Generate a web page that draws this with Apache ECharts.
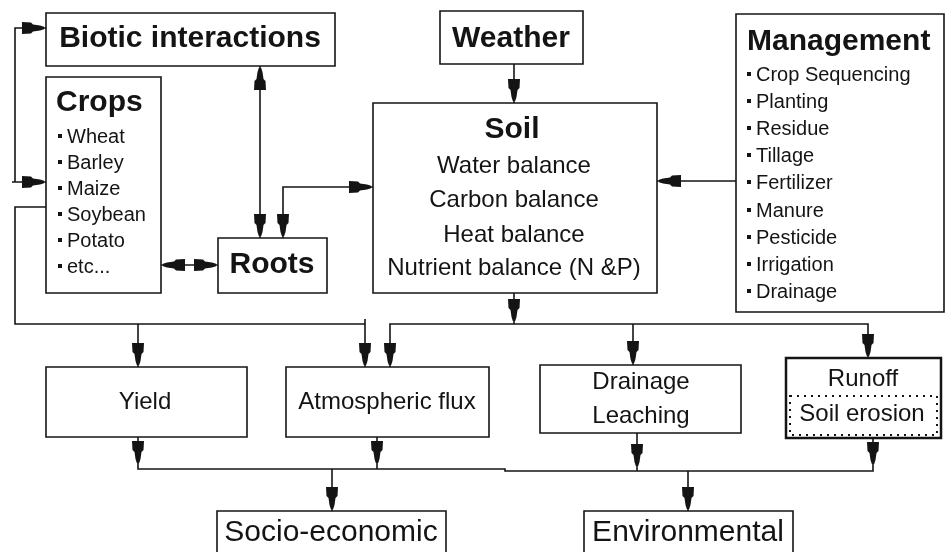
<!DOCTYPE html>
<html>
<head>
    <meta charset="UTF-8">
    <title>Crop system model</title>
    <script src="https://cdn.jsdelivr.net/npm/echarts@6/dist/echarts.min.js"></script>
    <style>
        html, body { margin: 0; padding: 0; background: #fff; }
    </style>
</head>
<body>
<div id="main" style="width: 946px;height:552px;"></div>
<script type="text/javascript">
    // boxes: name, x0, y0, x1, y1 (diagram units = pixels of the figure)
    var boxes = [
        ['biotic', 46, 13, 335, 66],
        ['crops', 46, 77, 161, 293],
        ['roots', 218, 238, 327, 293],
        ['weather', 440, 11, 583, 64],
        ['soil', 373, 103, 657, 293],
        ['management', 736, 14, 944, 312],
        ['yield', 46, 367, 247, 437],
        ['atmos', 286, 367, 489, 437],
        ['drainage', 540, 365, 741, 433],
        ['runoff', 786, 358, 941, 438],
        ['socio', 217, 511, 446, 575],
        ['environ', 584, 511, 793, 575]
    ];
    // dotted part of the runoff box (soil erosion)
    var dottedBoxes = [[790, 396, 937, 435]];

    // connector polylines
    var links = [
        [[12, 182], [46, 182]],
        [[15, 182], [15, 28], [46, 28]],
        [[46, 207], [15, 207], [15, 324], [365, 324]],
        [[138, 324], [138, 367]],
        [[365, 319], [365, 367]],
        [[260, 66], [260, 238]],
        [[283, 238], [283, 187], [373, 187]],
        [[161, 265], [218, 265]],
        [[514, 64], [514, 103]],
        [[736, 181], [657, 181]],
        [[514, 293], [514, 324]],
        [[390, 367], [390, 324], [868, 324], [868, 358]],
        [[633, 324], [633, 365]],
        [[138, 437], [138, 469], [505, 469], [505, 471], [873, 471], [873, 438]],
        [[377, 437], [377, 469]],
        [[637, 433], [637, 471]],
        [[332, 469], [332, 511]],
        [[688, 471], [688, 511]]
    ];

    // arrow heads: tip x, tip y, direction
    var arrowHeads = [
        [46, 28, 'right'], [46, 182, 'right'],
        [138, 367, 'down'], [365, 367, 'down'],
        [260, 66, 'up'], [260, 238, 'down'], [283, 238, 'down'],
        [373, 187, 'right'], [161, 265, 'left'], [218, 265, 'right'],
        [514, 103, 'down'], [657, 181, 'left'], [514, 323, 'down'],
        [390, 367, 'down'], [633, 365, 'down'], [868, 358, 'down'],
        [138, 465, 'down'], [377, 465, 'down'], [637, 468, 'down'], [873, 466, 'down'],
        [332, 511, 'down'], [688, 511, 'down']
    ];

    // texts: text, x, y, kind, align
    var labels = [
        ['Biotic interactions', 190, 39, 'head', 'center'],
        ['Crops', 56, 103, 'head', 'left'],
        ['Roots', 272, 265, 'head', 'center'],
        ['Weather', 511, 39, 'head', 'center'],
        ['Soil', 512, 130, 'head', 'center'],
        ['Management', 747, 42, 'head', 'left'],
        ['Water balance', 514, 166, 'body', 'center'],
        ['Carbon balance', 514, 200, 'body', 'center'],
        ['Heat balance', 514, 235, 'body', 'center'],
        ['Nutrient balance (N &P)', 514, 268, 'body', 'center'],
        ['Yield', 145, 402, 'body', 'center'],
        ['Atmospheric flux', 387, 402, 'body', 'center'],
        ['Drainage', 641, 382, 'body', 'center'],
        ['Leaching', 641, 416, 'body', 'center'],
        ['Runoff', 863, 379, 'body', 'center'],
        ['Soil erosion', 862, 414, 'body', 'center'],
        ['Socio-economic', 331, 533, 'big', 'center'],
        ['Environmental', 688, 533, 'big', 'center']
    ];

    var cropItems = ['Wheat', 'Barley', 'Maize', 'Soybean', 'Potato', 'etc...'];
    var cropItemY = [137, 163, 189, 215, 241, 267];
    var mgmtItems = ['Crop Sequencing', 'Planting', 'Residue', 'Tillage', 'Fertilizer',
        'Manure', 'Pesticide', 'Irrigation', 'Drainage'];
    var mgmtItemY = [75, 102, 129, 156, 183, 211, 238, 265, 292];

    cropItems.forEach(function (t, i) { labels.push([t, 67, cropItemY[i], 'item', 'left']); });
    mgmtItems.forEach(function (t, i) { labels.push([t, 756, mgmtItemY[i], 'item', 'left']); });

    var ink = '#141414';
    var fonts = {
        head: 'bold 30px "Liberation Sans", Arial, sans-serif',
        body: '24px "Liberation Sans", Arial, sans-serif',
        item: '20px "Liberation Sans", Arial, sans-serif',
        big: '30px "Liberation Sans", Arial, sans-serif'
    };

    var myChart = echarts.init(document.getElementById('main'));

    function rectShape(api, b) {
        var p0 = api.coord([b[0], b[1]]);
        var p1 = api.coord([b[2], b[3]]);
        return { x: p0[0], y: p0[1], width: p1[0] - p0[0], height: p1[1] - p0[1] };
    }

    // blocky arrow head pointing down, tip at (0,0)
    var arrowShape = [[-6, -24], [6, -24], [5.5, -15], [3.5, -13], [2.5, -6], [1.2, -2],
        [-1.2, -2], [-2.5, -6], [-3.5, -13], [-5.5, -15]];

    var option = {
        backgroundColor: '#ffffff',
        animation: false,
        grid: { left: 0, right: 0, top: 0, bottom: 0 },
        xAxis: { type: 'value', min: 0, max: 946, show: false },
        yAxis: { type: 'value', min: 0, max: 552, inverse: true, show: false },
        series: [
            {
                name: 'boxes',
                type: 'custom',
                silent: true,
                clip: false,
                data: boxes.map(function (b) { return [b[1], b[2], b[3], b[4]]; }),
                renderItem: function (params, api) {
                    var b = boxes[params.dataIndex];
                    return {
                        type: 'rect',
                        shape: rectShape(api, [b[1], b[2], b[3], b[4]]),
                        style: { fill: '#fff', stroke: ink, lineWidth: b[0] === 'runoff' ? 2.5 : 1.6 }
                    };
                }
            },
            {
                name: 'dotted',
                type: 'custom',
                silent: true,
                clip: false,
                z: 3,
                data: dottedBoxes,
                renderItem: function (params, api) {
                    var b = dottedBoxes[params.dataIndex];
                    return {
                        type: 'rect',
                        shape: rectShape(api, b),
                        style: { fill: 'none', stroke: ink, lineWidth: 2, lineDash: [2, 5] }
                    };
                }
            },
            {
                name: 'links',
                type: 'lines',
                coordinateSystem: 'cartesian2d',
                polyline: true,
                silent: true,
                z: 3,
                lineStyle: { color: ink, width: 1.6, opacity: 1 },
                data: links.map(function (l) { return { coords: l }; })
            },
            {
                name: 'arrows',
                type: 'custom',
                silent: true,
                clip: false,
                z: 4,
                data: arrowHeads.map(function (a) { return [a[0], a[1]]; }),
                renderItem: function (params, api) {
                    var a = arrowHeads[params.dataIndex];
                    var c = api.coord([a[0], a[1]]);
                    var pts = arrowShape.map(function (p) {
                        var x = p[0], y = p[1];
                        if (a[2] === 'up') return [c[0] + x, c[1] - y];
                        if (a[2] === 'right') return [c[0] + y, c[1] + x];
                        if (a[2] === 'left') return [c[0] - y, c[1] + x];
                        return [c[0] + x, c[1] + y];
                    });
                    return { type: 'polygon', shape: { points: pts }, style: { fill: ink } };
                }
            },
            {
                name: 'labels',
                type: 'custom',
                silent: true,
                clip: false,
                z: 5,
                data: labels.map(function (t) { return [t[1], t[2]]; }),
                renderItem: function (params, api) {
                    var t = labels[params.dataIndex];
                    var c = api.coord([t[1], t[2]]);
                    var children = [{
                        type: 'text',
                        style: {
                            x: c[0], y: c[1], text: t[0], font: fonts[t[3]],
                            fill: ink, align: t[4], verticalAlign: 'middle'
                        }
                    }];
                    if (t[3] === 'item') {
                        children.push({
                            type: 'rect',
                            shape: { x: c[0] - 9, y: c[1] - 3, width: 4, height: 4 },
                            style: { fill: ink }
                        });
                    }
                    return { type: 'group', children: children };
                }
            }
        ]
    };

    myChart.setOption(option);
</script>
</body>
</html>
